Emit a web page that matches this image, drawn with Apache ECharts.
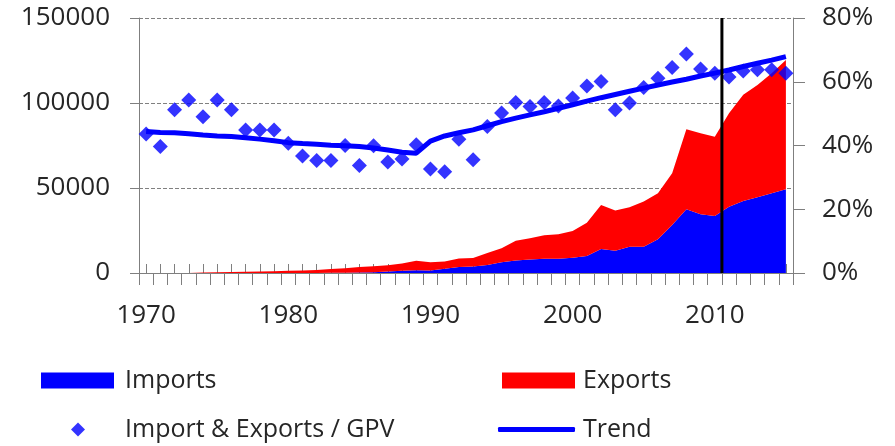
<!DOCTYPE html>
<html>

<head>
  <meta charset="utf-8">
  <title>Imports / Exports</title>
  <script src="https://cdn.jsdelivr.net/npm/echarts@6/dist/echarts.min.js"></script>
</head>

<body style="margin:0;background:#fff">
  <div id="main" style="width: 895px;height:446px;"></div>
  <script type="text/javascript">
    // data
    var years = [];
    for (var y = 1970; y <= 2015; y++) years.push(String(y));

    var imports = [0, 0, 0, 0, 0, 0, 0, 0, 0, 0,
      0, 0, 0, 100, 200, 300, 500, 900, 1300, 1600,
      1500, 2500, 3600, 3800, 4700, 6300, 7300, 8000, 8400, 8400,
      9000, 10000, 14100, 13100, 15500, 15500, 19800, 28200, 37500, 34500,
      33500, 39000, 42400, 44500, 46900, 49300];

    var exports = [0, 0, 0, 0, 300, 500, 600, 700, 900, 1100,
      1300, 1500, 1800, 2200, 2600, 3200, 3500, 3700, 4300, 5600,
      4800, 4300, 5000, 5000, 7100, 8200, 11700, 12500, 13800, 14400,
      15700, 19600, 25900, 23600, 23200, 26500, 27100, 30500, 47100, 47700,
      46700, 55000, 62400, 66100, 70600, 76000];

    // import & exports / GPV, in %
    var ratio = [43.6, 39.7, 51.2, 54.3, 49.0, 54.3, 51.2, 44.9, 44.9, 44.9,
      40.7, 36.7, 35.3, 35.3, 40.0, 33.7, 39.9, 34.8, 35.8, 40.2,
      32.6, 31.8, 42.0, 35.5, 46.0, 50.2, 53.5, 52.2, 53.5, 52.4,
      54.9, 58.7, 60.1, 51.2, 53.3, 58.2, 61.1, 64.5, 68.7, 64.0,
      62.7, 61.5, 63.4, 63.8, 63.8, 62.7];

    var trend = [44.4, 44.1, 44.0, 43.7, 43.3, 43.0, 42.8, 42.4, 42.0, 41.5,
      40.9, 40.6, 40.4, 40.1, 39.9, 39.7, 39.2, 38.6, 37.9, 37.6,
      41.4, 43.0, 44.0, 44.9, 46.2, 47.5, 48.6, 49.6, 50.6, 51.7,
      52.8, 53.9, 55.0, 56.0, 57.0, 58.0, 59.0, 59.9, 60.8, 61.8,
      62.7, 63.7, 64.8, 65.8, 66.8, 67.9];

    var splitYear = 2010.5;

    var txt = '#262626';
    var axisGray = '#7f7f7f';
    var font = '"Open Sans", sans-serif';

    var myChart = echarts.init(document.getElementById('main'));

    function legendAt(name, left, top, w, h, icon, pad) {
      return {
        data: [name],
        left: left,
        top: top,
        padding: 0,
        itemWidth: w,
        itemHeight: h,
        icon: icon,
        selectedMode: false,
        textStyle: { color: txt, fontSize: 25, fontFamily: font, padding: [0, 0, 0, pad] }
      };
    }

    var option = {
      animation: false,
      grid: { left: 139, right: 102, top: 18, bottom: 173 },
      legend: [
        legendAt('Imports', 41, 368, 73, 16, 'rect', 6),
        legendAt('Exports', 502, 368, 73, 16, 'rect', 3),
        legendAt('Import & Exports / GPV', 71, 417, 14, 14, 'diamond', 35),
        legendAt('Trend', 498, 417, 77, 5, 'roundRect', 3)
      ],
      xAxis: [{
        type: 'category',
        data: years,
        position: 'bottom',
        boundaryGap: true,
        axisLine: { show: true, lineStyle: { color: axisGray, width: 1 } },
        axisTick: { show: true, inside: false, alignWithLabel: false, interval: 0, length: 12, lineStyle: { color: axisGray, width: 1 } },
        axisLabel: { interval: 9, color: txt, fontSize: 26, fontFamily: font, margin: 30 },
        splitLine: { show: false }
      }, {
        // inner ticks at year centres
        type: 'category',
        data: years,
        position: 'bottom',
        boundaryGap: true,
        axisLine: { show: false },
        axisTick: { show: true, inside: true, alignWithLabel: true, interval: 0, length: 9, lineStyle: { color: axisGray } },
        axisLabel: { show: false },
        splitLine: { show: false }
      }, {
        type: 'value',
        min: 1969.5,
        max: 2015.5,
        show: false
      }],
      yAxis: [{
        type: 'value',
        min: 0,
        max: 150000,
        interval: 50000,
        axisLine: { show: true, lineStyle: { color: axisGray } },
        axisTick: { show: true, length: 9, lineStyle: { color: axisGray } },
        axisLabel: {
          color: txt, fontSize: 26, fontFamily: font, margin: 29,
          formatter: function (v) { return String(v); }
        },
        splitLine: { show: true, lineStyle: { color: '#808080', width: 1, type: 'dashed' } }
      }, {
        type: 'value',
        min: 0,
        max: 80,
        interval: 20,
        position: 'right',
        axisLine: { show: true, lineStyle: { color: axisGray } },
        axisTick: { show: true, length: 12, lineStyle: { color: axisGray } },
        axisLabel: { color: txt, fontSize: 26, fontFamily: font, margin: 29, formatter: '{value}%' },
        splitLine: { show: false }
      }],
      series: [{
        name: 'Imports',
        type: 'line',
        stack: 'trade',
        data: imports,
        symbol: 'none',
        lineStyle: { width: 0 },
        itemStyle: { color: '#0000ff' },
        areaStyle: { color: '#0000ff', opacity: 1 },
        z: 2
      }, {
        name: 'Exports',
        type: 'line',
        stack: 'trade',
        data: exports,
        symbol: 'none',
        lineStyle: { width: 0 },
        itemStyle: { color: '#ff0000' },
        areaStyle: { color: '#ff0000', opacity: 1 },
        z: 2
      }, {
        name: 'Trend',
        type: 'line',
        yAxisIndex: 1,
        data: trend,
        symbol: 'none',
        itemStyle: { color: '#0000ff' },
        lineStyle: { color: '#0000ff', width: 5 },
        z: 3
      }, {
        name: 'Import & Exports / GPV',
        type: 'scatter',
        yAxisIndex: 1,
        data: ratio,
        symbol: 'diamond',
        symbolSize: 15,
        itemStyle: { color: '#0000ff' },
        z: 4
      }, {
        name: 'split',
        type: 'line',
        xAxisIndex: 2,
        yAxisIndex: 0,
        data: [[splitYear, 0], [splitYear, 150000]],
        symbol: 'none',
        lineStyle: { color: '#000', width: 3 },
        silent: true,
        z: 5
      }]
    };

    myChart.setOption(option);
  </script>
</body>

</html>
